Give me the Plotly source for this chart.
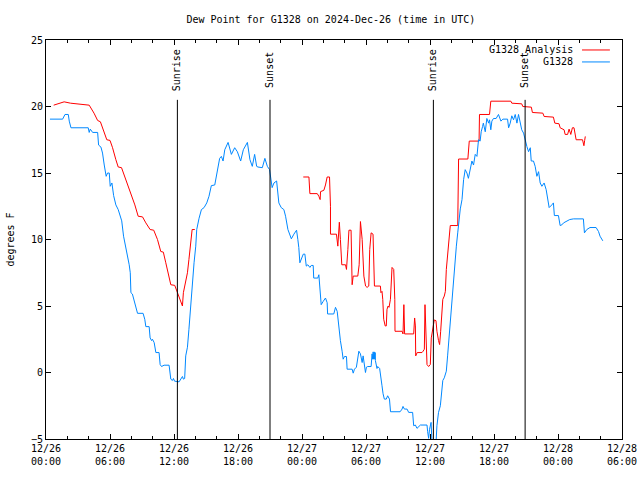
import pandas as pd
import plotly.graph_objects as go

START = "2024-12-26 00:00"

# Analysis series (hours since start, degrees F); None marks a gap
red_hours = [0.72,1.4,1.7,2.3,3.2,4.05,4.5,4.84,5.1,5.4,5.7,6.0,6.24,6.55,6.77,7.08,7.4,7.7,8.0,8.33,
             8.64,9.05,9.36,9.76,10.1,10.45,10.76,11.0,11.23,11.54,11.7,12.07,12.33,12.48,12.63,12.79,12.88,
             13.1,13.26,13.4,13.55,13.7,13.95,
             19.0,
             24.12,24.65,24.74,25.43,25.58,25.7,25.74,26.05,26.2,26.36,26.58,26.67,26.67,27.23,27.36,27.5,27.6,
             27.73,28.08,28.17,28.3,28.4,28.6,28.7,28.8,29.23,29.36,29.48,29.64,29.73,29.8,29.96,30.1,30.26,
             30.35,30.48,30.66,30.79,31.35,31.4,31.5,31.57,31.66,31.8,31.9,31.97,32.07,32.16,32.29,32.44,32.6,
             32.7,32.72,33.38,33.47,33.55,33.62,34.47,34.56,34.63,34.66,34.8,35.25,35.35,35.47,35.53,35.6,
             35.72,35.87,36.03,36.12,36.24,36.4,36.56,36.65,36.8,36.9,37.0,37.1,37.2,37.34,37.44,37.53,37.65,
             37.75,37.85,37.9,38.6,38.62,38.68,39.55,39.6,39.68,40.6,40.64,41.58,41.7,43.58,43.67,44.6,44.7,
             45.5,45.6,46.58,46.7,47.57,47.7,48.1,48.2,48.57,48.67,48.9,49.04,49.2,49.35,49.5,49.6,49.7,50.3,
             50.43,50.5,50.56]
red_values = [20.1,20.25,20.35,20.25,20.2,20.1,19.5,18.95,18.85,18.1,17.5,17.45,16.9,16.0,15.45,15.4,14.7,13.9,
              13.4,12.6,11.75,11.7,11.25,10.75,10.7,10.0,9.1,9.05,8.25,7.25,6.6,6.55,6.0,5.6,5.3,5.0,6.0,
              6.75,7.5,8.5,9.75,10.75,10.75,
              None,
              14.7,14.7,13.45,13.45,13.25,13.0,13.6,13.7,14.1,14.7,14.7,12.5,10.4,10.4,9.5,11.3,10.0,
              8.1,8.1,7.75,9.25,10.7,10.7,6.6,7.25,7.25,8.1,11.35,10.0,8.0,7.25,6.5,6.4,6.5,
              9.25,10.5,10.4,6.5,6.5,6.0,6.1,5.5,4.0,3.5,3.5,4.75,5.0,4.9,5.5,7.9,7.75,
              5.5,3.1,3.1,2.9,5.1,2.9,2.9,4.1,3.5,1.25,1.5,1.5,1.6,1.75,5.1,3.5,
              0.6,0.45,0.6,2.6,3.25,3.95,3.9,3.1,2.4,2.1,3.1,4.75,5.5,5.75,6.1,7.75,8.75,
              9.75,10.4,11.05,11.05,13.5,16.05,16.05,16.75,17.4,17.4,19.4,19.4,20.4,20.4,20.25,20.2,20.0,
              19.95,19.55,19.5,19.25,19.2,18.75,18.7,18.4,18.25,17.9,17.9,18.3,17.9,18.4,18.4,17.9,17.5,17.5,
              17.05,17.45,17.75]

# Observed series (hours since start, degrees F)
blue_hours = [0.37,1.56,1.78,2.09,2.18,2.34,3.96,4.05,4.15,4.37,4.84,4.93,5.15,5.3,5.46,5.64,5.77,5.93,6.02,6.18,
              6.34,6.55,6.77,6.96,7.1,7.27,7.5,7.65,7.8,7.9,7.96,8.1,8.26,8.42,8.58,9.1,9.26,9.36,9.67,9.76,
              9.9,9.98,10.14,10.3,10.6,10.7,10.83,11.07,11.54,11.7,11.85,11.95,12.05,12.48,12.63,12.79,12.88,
              13.0,13.1,13.26,13.4,13.57,13.73,13.88,14.04,14.13,14.35,14.57,14.82,15.07,15.28,15.5,15.82,
              16.07,16.28,16.44,16.6,16.76,17.07,17.38,17.69,17.94,18.25,18.5,18.88,19.12,19.34,19.56,19.75,
              19.87,20.28,20.52,20.75,20.96,21.06,21.2,21.37,21.62,21.83,22.05,22.3,22.46,22.68,23.0,23.24,
              23.49,23.61,23.7,23.8,23.93,24.12,24.27,24.4,24.55,24.74,24.87,25.05,25.1,25.48,25.58,25.67,
              25.8,25.99,26.2,26.36,26.4,26.98,27.14,27.3,27.45,27.6,27.76,27.86,27.98,28.17,28.23,28.7,28.8,
              28.92,29.1,29.23,29.33,29.48,29.55,29.64,29.73,29.85,29.95,30.04,30.16,30.48,30.57,30.62,30.67,
              30.72,30.77,30.82,30.86,30.88,31.03,31.1,31.28,31.4,31.5,31.6,31.72,31.9,32.03,32.2,32.3,33.2,
              33.38,33.47,33.6,33.85,34.0,34.37,34.47,34.63,34.78,35.1,35.72,35.78,35.87,35.95,36.03,36.1,
              36.2,36.55,36.65,36.8,36.97,37.06,37.15,37.2,37.34,37.53,37.65,37.75,37.85,37.9,38.06,38.15,
              38.28,38.37,38.47,38.6,38.68,38.84,39.0,39.15,39.3,39.46,39.6,39.77,39.93,40.08,40.24,40.4,
              40.55,40.7,40.8,40.93,41.0,41.18,41.33,41.5,41.58,41.7,41.8,41.95,42.2,42.42,42.65,42.83,43.27,
              43.37,43.52,43.67,43.83,43.99,44.15,44.3,44.46,44.6,44.77,44.92,45.08,45.24,45.4,45.49,45.7,
              45.86,46.02,46.18,46.33,46.49,46.7,46.89,47.0,47.17,47.42,47.57,47.66,48.04,48.2,48.36,48.52,
              48.83,49.1,49.45,50.38,50.48,50.7,51.0,51.57,51.8,51.94,52.2]
blue_values = [19.05,19.05,19.4,19.4,18.9,18.4,18.4,18.05,18.3,18.05,18.05,17.1,16.95,16.5,15.6,14.75,15.0,15.0,
               14.0,14.25,13.3,12.6,12.25,11.75,11.4,10.25,9.4,8.75,8.1,7.5,6.0,5.9,5.4,5.0,4.45,4.45,4.0,
               3.45,3.45,2.6,2.4,2.5,2.25,1.5,1.5,0.6,0.45,0.55,0.55,-0.5,-0.6,-0.45,-0.65,-0.7,-0.45,-0.3,
               -0.5,-0.45,1.25,1.9,3.25,5.25,6.4,8.25,9.5,10.75,11.6,12.25,12.4,12.75,13.25,14.05,14.1,
               15.25,16.1,16.25,15.9,16.75,17.3,16.4,16.9,16.6,15.9,16.75,17.3,16.0,15.5,16.4,15.5,
               15.45,15.4,16.1,15.5,15.25,14.5,13.9,14.25,14.4,12.75,12.4,12.25,11.75,10.75,10.05,10.4,
               10.7,10.0,9.4,8.25,8.5,8.9,8.9,8.0,8.1,7.9,8.05,8.05,7.1,7.1,7.35,6.1,
               5.1,5.35,5.6,5.25,4.4,4.4,4.9,4.6,3.4,2.4,1.6,1.0,1.2,1.2,0.25,0.25,-0.05,
               0.25,0.4,1.0,1.6,1.4,0.9,0.75,1.25,0.45,0.0,0.4,0.45,0.45,1.4,1.0,1.55,
               1.0,1.55,1.0,1.5,0.9,0.3,0.45,0.3,-0.25,-1.0,-1.6,-2.0,-2.0,-1.75,-2.0,-2.95,-2.95,
               -2.75,-2.55,-2.75,-2.75,-3.0,-3.0,-4.0,-3.95,-4.2,-3.95,-3.95,-4.45,-4.95,-4.3,-4.0,-3.75,
               -5.5,-5.5,-4.0,-3.0,-2.5,-1.9,-1.1,-0.6,-0.4,0.1,1.25,2.25,3.5,4.4,5.5,6.25,
               7.5,8.5,9.5,10.5,11.25,12.3,13.0,14.5,15.25,15.0,14.6,15.4,15.9,15.6,16.4,16.25,
               17.5,17.4,18.1,18.5,18.75,18.1,19.1,18.75,19.0,18.25,18.9,19.1,19.1,19.4,18.9,19.05,19.05,
               18.4,18.75,19.3,19.0,19.4,18.75,19.4,18.6,18.25,18.0,17.4,17.0,16.6,16.9,15.9,15.9,
               15.5,14.75,15.1,14.25,14.0,14.25,13.75,13.1,12.4,12.6,12.75,11.8,11.8,11.05,11.1,11.25,
               11.4,11.5,11.55,11.55,10.5,10.75,10.9,10.9,10.6,10.25,9.9]

sun_times = ["2024-12-26 12:19", "2024-12-26 21:00", "2024-12-27 12:19", "2024-12-27 20:55"]
sun_labels = ["Sunrise", "Sunset", "Sunrise", "Sunset"]

series_names = ["G1328 Analysis", "G1328"]
series_colors = ["#ff0000", "#0088ff"]

x_range = ["2024-12-26 00:00", "2024-12-28 06:00"]
y_range = [-5, 25]

FONT = "DejaVu Sans Mono"
start = pd.Timestamp(START)


def to_times(hours, values):
    out = []
    for h, v in zip(hours, values):
        out.append(None if v is None else start + pd.Timedelta(hours=h))
    return out


red_x = to_times(red_hours, red_values)
blue_x = to_times(blue_hours, blue_values)

fig = go.Figure()
fig.add_trace(go.Scatter(x=red_x, y=red_values, mode="lines", name=series_names[0],
                         line=dict(color=series_colors[0], width=1), connectgaps=False))
fig.add_trace(go.Scatter(x=blue_x, y=blue_values, mode="lines", name=series_names[1],
                         line=dict(color=series_colors[1], width=1)))

for t, lab in zip(sun_times, sun_labels):
    fig.add_shape(type="line", xref="x", yref="paper", x0=t, x1=t, y0=0, y1=0.85,
                  line=dict(color="black", width=1))
    fig.add_annotation(x=t, xref="x", y=0.925, yref="paper", text=lab, textangle=-90,
                       showarrow=False, xanchor="center", yanchor="middle",
                       font=dict(family=FONT, size=10, color="black"))

# manual legend (text on left, sample on right, as in the original)
leg_y = [0.975, 0.945]
for name, col, yy in zip(series_names, series_colors, leg_y):
    fig.add_annotation(x=0.918, xref="paper", y=yy, yref="paper", text=name, showarrow=False,
                       xanchor="right", yanchor="middle",
                       font=dict(family=FONT, size=10, color="black"))
    fig.add_shape(type="line", xref="paper", yref="paper", x0=0.9306, x1=0.979, y0=yy, y1=yy,
                  line=dict(color=col, width=1))

fig.update_layout(
    width=640, height=480,
    margin=dict(l=46, r=18, t=40, b=41, autoexpand=False),
    paper_bgcolor="white", plot_bgcolor="white",
    showlegend=False,
    font=dict(family=FONT, size=10, color="black"),
    title=dict(text="Dew Point for G1328 on 2024-Dec-26 (time in UTC)", x=0.517, xanchor="center",
               y=0.96, yanchor="middle", font=dict(family=FONT, size=10, color="black")),
)
fig.update_xaxes(
    range=x_range, type="date", showgrid=False, zeroline=False, automargin=False,
    showline=True, linecolor="black", linewidth=1, mirror="ticks",
    ticks="inside", ticklen=5, tickcolor="black", dtick=6 * 3600 * 1000, tick0="2024-12-26 00:00",
    tickformat="%m/%d<br>%H:%M",
    minor=dict(ticks="inside", ticklen=3, dtick=2 * 3600 * 1000, tickcolor="black", showgrid=False),
    tickfont=dict(family=FONT, size=10, color="black"),
)
fig.update_yaxes(
    range=y_range, showgrid=False, zeroline=False, automargin=False,
    showline=True, linecolor="black", linewidth=1, mirror="ticks",
    ticks="inside", ticklen=5, tickcolor="black", dtick=5,
    tickfont=dict(family=FONT, size=10, color="black"),
    title=dict(text="degrees F", standoff=14, font=dict(family=FONT, size=10, color="black")),
)

# remove the default page margin so the 640x480 figure fills the window exactly
fig.write_html("out.html", config={"displayModeBar": False},
               post_script="document.body.style.margin='0';document.body.style.overflow='hidden';")
